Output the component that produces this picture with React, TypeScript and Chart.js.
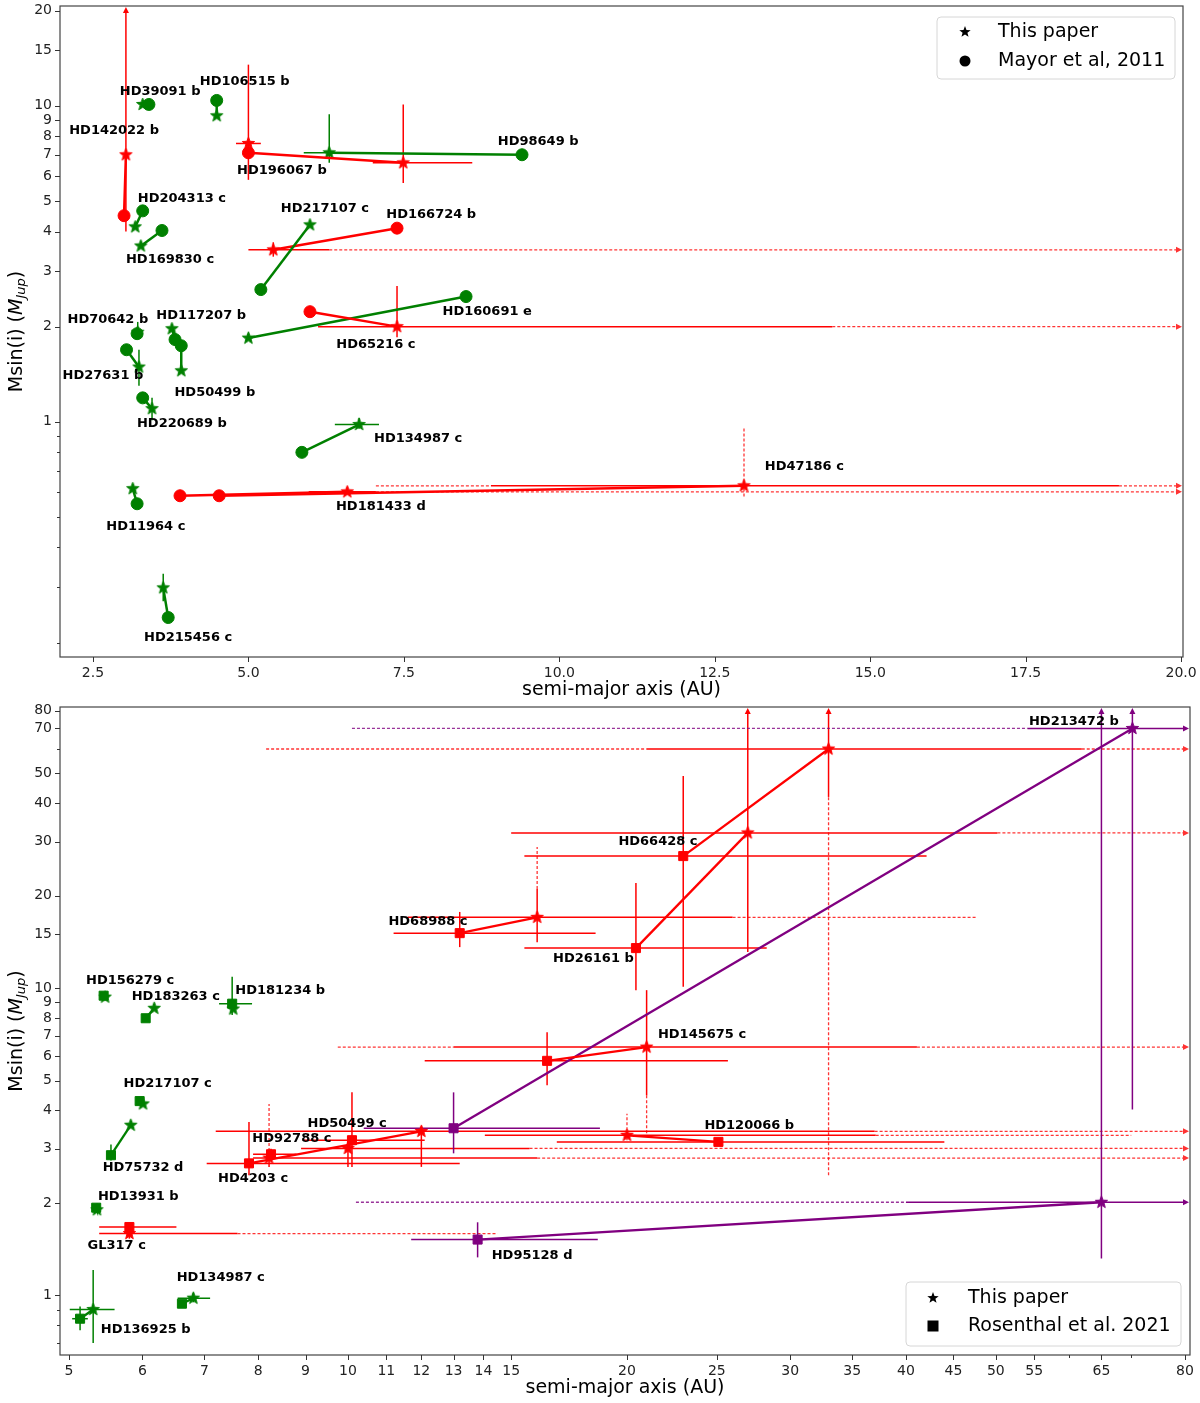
import React, { useEffect, useRef } from 'react';
import { Chart, registerables } from 'chart.js';
Chart.register(...registerables);
Chart.defaults.font.family = '"DejaVu Sans", sans-serif';

const EDGE = Infinity;
const COLORS: Record<string, string> = { g: '#008000', r: '#ff0000', p: '#800080' };

// ---------------- Top panel: This paper vs Mayor et al. 2011 ----------------
const topNames = ['HD142022 b', 'HD39091 b', 'HD106515 b', 'HD196067 b', 'unpaired', 'HD98649 b', 'HD204313 c', 'HD169830 c', 'HD217107 c', 'HD166724 b', 'HD65216 c', 'HD160691 e', 'HD70642 b', 'HD27631 b', 'HD117207 b', 'HD50499 b', 'HD220689 b', 'HD134987 c', 'HD47186 c', 'HD181433 d', 'HD11964 c', 'HD215456 c'];
const topGroup = ['r', 'g', 'g', 'r', 'r', 'g', 'g', 'g', 'g', 'r', 'r', 'g', 'g', 'g', 'g', 'g', 'g', 'g', 'r', 'r', 'g', 'g'];
const topStarA = [3.03, 3.30, 4.49, 7.49, 5.0, 6.30, 3.18, 3.27, 5.99, 5.40, 7.39, 5.0, 3.22, 3.24, 3.77, 3.92, 3.45, 6.78, 12.97, 6.59, 3.14, 3.63];
const topStarM = [7.0, 10.1, 9.3, 6.6, 7.6, 7.1, 4.14, 3.6, 4.2, 3.5, 2.0, 1.84, 1.92, 1.49, 1.97, 1.45, 1.1, 0.98, 0.627, 0.60, 0.614, 0.298];
const topRefA: (number | null)[] = [3.0, 3.40, 4.49, 5.0, null, 9.40, 3.30, 3.61, 5.20, 7.39, 5.99, 8.50, 3.21, 3.04, 3.82, 3.92, 3.30, 5.86, 4.53, 3.90, 3.21, 3.71];
const topRefM: (number | null)[] = [4.49, 10.1, 10.4, 7.1, null, 7.0, 4.65, 4.03, 2.62, 4.1, 2.23, 2.49, 1.9, 1.69, 1.82, 1.74, 1.19, 0.80, 0.583, 0.583, 0.55, 0.24];
const topLabelA: (number | null)[] = [2.84, 3.58, 4.94, 5.54, null, 9.66, 3.93, 3.74, 6.23, 7.94, 7.05, 8.84, 2.74, 2.66, 4.24, 4.46, 3.93, 7.73, 13.94, 7.13, 3.35, 4.03];
const topLabelM: (number | null)[] = [8.33, 11.07, 11.9, 6.23, null, 7.69, 5.08, 3.26, 4.72, 4.52, 1.75, 2.23, 2.1, 1.40, 2.17, 1.24, 0.985, 0.884, 0.72, 0.538, 0.465, 0.207];
// [planet, marker (s=star, r=reference), axis, from, to, style]
const topErr: [string, string, string, number, number, string][] = [
  ['HD142022 b', 's', 'y', 4.0, EDGE, 'solid>'],
  ['unpaired', 's', 'y', 5.83, 13.5, 'solid'],
  ['unpaired', 's', 'x', 4.8, 5.2, 'solid'],
  ['HD196067 b', 's', 'y', 5.7, 10.1, 'solid'],
  ['HD196067 b', 's', 'x', 7.0, 8.6, 'solid'],
  ['HD98649 b', 's', 'y', 6.6, 9.4, 'solid'],
  ['HD98649 b', 's', 'x', 5.89, 6.7, 'solid'],
  ['HD166724 b', 's', 'x', 5.0, 6.3, 'solid'],
  ['HD166724 b', 's', 'x', 6.3, EDGE, 'dashed>'],
  ['HD166724 b', 's', 'y', 3.33, 3.7, 'solid'],
  ['HD65216 c', 's', 'x', 6.12, 14.39, 'solid'],
  ['HD65216 c', 's', 'x', 14.39, EDGE, 'dashed>'],
  ['HD65216 c', 's', 'y', 1.85, 2.69, 'solid'],
  ['HD70642 b', 's', 'y', 1.85, 2.07, 'solid'],
  ['HD27631 b', 's', 'y', 1.3, 1.69, 'solid'],
  ['HD220689 b', 's', 'y', 1.01, 1.19, 'solid'],
  ['HD134987 c', 's', 'x', 6.39, 7.1, 'solid'],
  ['HD134987 c', 's', 'y', 0.95, 1.03, 'solid'],
  ['HD47186 c', 's', 'y', 0.58, 0.965, 'dashed'],
  ['HD47186 c', 's', 'x', 7.05, 8.9, 'dashed'],
  ['HD47186 c', 's', 'x', 8.9, 19.0, 'solid'],
  ['HD47186 c', 's', 'x', 19.0, EDGE, 'dashed>'],
  ['HD181433 d', 's', 'x', 5.97, 7.05, 'solid'],
  ['HD181433 d', 's', 'x', 7.05, EDGE, 'dashed>'],
  ['HD215456 c', 's', 'y', 0.27, 0.33, 'solid'],
];
const topXTicks = [2.5, 5.0, 7.5, 10.0, 12.5, 15.0, 17.5, 20.0];
const topXTickLabels = ['2.5', '5.0', '7.5', '10.0', '12.5', '15.0', '17.5', '20.0'];
const topYTicks = [1, 2, 3, 4, 5, 6, 7, 8, 9, 10, 15, 20];
const topYTickLabels = ['1', '2', '3', '4', '5', '6', '7', '8', '9', '10', '15', '20'];
const topYMinor = [0.2, 0.3, 0.4, 0.5, 0.6, 0.7, 0.8, 0.9];
const topLegend = ['This paper', 'Mayor et al, 2011'];

// ---------------- Bottom panel: This paper vs Rosenthal et al. 2021 ----------------
const botNames = ['HD156279 c', 'HD183263 c', 'HD181234 b', 'HD217107 c', 'HD75732 d', 'HD13931 b', 'HD136925 b', 'HD134987 c', 'GL317 c', 'HD4203 c', 'HD92788 c', 'HD50499 c', 'HD68988 c', 'HD26161 b', 'HD66428 c', 'HD145675 c', 'HD120066 b', 'HD213472 b', 'HD95128 d'];
const botGroup = ['g', 'g', 'g', 'g', 'g', 'g', 'g', 'g', 'r', 'r', 'r', 'r', 'r', 'r', 'r', 'r', 'r', 'p', 'p'];
const botStarA = [5.47, 6.18, 7.52, 6.01, 5.83, 5.36, 5.31, 6.81, 5.81, 12.0, 8.22, 10.0, 16.0, 27.0, 33.0, 21.0, 20.0, 70.2, 65.0];
const botStarM = [9.35, 8.6, 8.55, 4.2, 3.58, 1.90, 0.90, 0.98, 1.59, 3.42, 2.8, 3.01, 17.0, 32.0, 60.0, 6.43, 3.32, 70.0, 2.01];
const botRefA: (number | null)[] = [5.45, 6.05, 7.5, 5.96, 5.55, 5.35, 5.14, 6.62, 5.81, 7.82, 8.26, 10.1, 13.2, 20.45, 23.0, 16.4, 25.1, 13.0, 13.8];
const botRefM: (number | null)[] = [9.45, 7.98, 8.9, 4.29, 2.86, 1.93, 0.84, 0.94, 1.67, 2.69, 2.88, 3.2, 15.1, 13.5, 26.9, 5.8, 3.16, 3.5, 1.52];
const botLabelA: (number | null)[] = [5.82, 6.52, 8.45, 6.39, 6.01, 5.94, 6.05, 7.29, 5.63, 7.90, 8.70, 9.98, 12.2, 18.4, 21.6, 24.1, 27.1, 60.7, 15.8];
const botLabelM: (number | null)[] = [10.54, 9.35, 9.78, 4.90, 2.61, 2.09, 0.775, 1.144, 1.455, 2.40, 3.25, 3.63, 16.4, 12.5, 29.9, 7.08, 3.58, 73.5, 1.35];
const botErr: [string, string, string, number, number, string][] = [
  ['HD181234 b', 'r', 'y', 8.17, 10.9, 'solid'],
  ['HD181234 b', 'r', 'x', 7.26, 7.88, 'solid'],
  ['HD75732 d', 'r', 'y', 2.75, 3.1, 'solid'],
  ['HD136925 b', 'r', 'y', 0.77, 0.92, 'solid'],
  ['HD136925 b', 'r', 'x', 5.04, 5.24, 'solid'],
  ['HD136925 b', 's', 'y', 0.70, 1.21, 'solid'],
  ['HD136925 b', 's', 'x', 5.01, 5.60, 'solid'],
  ['HD134987 c', 's', 'x', 6.55, 7.1, 'solid'],
  ['HD134987 c', 's', 'y', 0.95, 1.02, 'solid'],
  ['GL317 c', 'r', 'x', 5.39, 6.53, 'solid'],
  ['GL317 c', 'r', 'y', 1.62, 1.73, 'solid'],
  ['GL317 c', 's', 'x', 5.39, 7.6, 'solid'],
  ['GL317 c', 's', 'x', 7.6, 14.5, 'dashed'],
  ['GL317 c', 's', 'y', 1.53, 1.66, 'solid'],
  ['HD4203 c', 'r', 'y', 2.46, 3.67, 'solid'],
  ['HD4203 c', 'r', 'x', 7.04, 13.2, 'solid'],
  ['HD4203 c', 's', 'y', 2.62, 3.55, 'solid'],
  ['HD4203 c', 's', 'x', 7.2, 37, 'solid'],
  ['HD4203 c', 's', 'x', 37, EDGE, 'dashed>'],
  ['HD92788 c', 'r', 'x', 7.9, 8.8, 'solid'],
  ['HD92788 c', 'r', 'y', 2.75, 3.0, 'solid'],
  ['HD92788 c', 's', 'y', 2.62, 2.95, 'solid'],
  ['HD92788 c', 's', 'y', 2.95, 4.2, 'dashed'],
  ['HD92788 c', 's', 'x', 7.9, 16, 'solid'],
  ['HD92788 c', 's', 'x', 16, EDGE, 'dashed>'],
  ['HD50499 c', 'r', 'y', 2.62, 4.58, 'solid'],
  ['HD50499 c', 'r', 'x', 8.94, 12.1, 'solid'],
  ['HD50499 c', 's', 'y', 2.62, 3.2, 'solid'],
  ['HD50499 c', 's', 'x', 8.9, 15.7, 'solid'],
  ['HD50499 c', 's', 'x', 15.7, EDGE, 'dashed>'],
  ['HD68988 c', 'r', 'y', 13.6, 17.7, 'solid'],
  ['HD68988 c', 'r', 'x', 11.2, 18.5, 'solid'],
  ['HD68988 c', 's', 'y', 14.1, 21.0, 'solid'],
  ['HD68988 c', 's', 'y', 21.0, 28.8, 'dashed'],
  ['HD68988 c', 's', 'x', 11.6, 26.0, 'solid'],
  ['HD68988 c', 's', 'x', 26.0, 47.6, 'dashed'],
  ['HD26161 b', 'r', 'y', 9.85, 22.0, 'solid'],
  ['HD26161 b', 'r', 'x', 15.5, 28.3, 'solid'],
  ['HD26161 b', 's', 'y', 13.1, EDGE, 'solid>'],
  ['HD26161 b', 's', 'x', 15.0, 50.2, 'solid'],
  ['HD26161 b', 's', 'x', 50.2, EDGE, 'dashed>'],
  ['HD66428 c', 'r', 'y', 10.1, 49, 'solid'],
  ['HD66428 c', 'r', 'x', 15.5, 42.1, 'solid'],
  ['HD66428 c', 's', 'y', 41.9, EDGE, 'solid>'],
  ['HD66428 c', 's', 'y', 2.46, 41.9, 'dashed'],
  ['HD66428 c', 's', 'x', 21.0, 61.9, 'solid'],
  ['HD66428 c', 's', 'x', 8.16, 21.0, 'dashed'],
  ['HD66428 c', 's', 'x', 61.9, EDGE, 'dashed>'],
  ['HD145675 c', 'r', 'y', 4.83, 7.19, 'solid'],
  ['HD145675 c', 'r', 'x', 12.1, 25.7, 'solid'],
  ['HD145675 c', 's', 'y', 4.48, 9.85, 'solid'],
  ['HD145675 c', 's', 'y', 3.37, 4.48, 'dashed'],
  ['HD145675 c', 's', 'x', 13.0, 41.1, 'solid'],
  ['HD145675 c', 's', 'x', 9.75, 13.0, 'dashed'],
  ['HD145675 c', 's', 'x', 41.1, EDGE, 'dashed>'],
  ['HD120066 b', 'r', 'x', 16.8, 44.0, 'solid'],
  ['HD120066 b', 'r', 'y', 3.1, 3.25, 'solid'],
  ['HD120066 b', 's', 'y', 3.2, 3.9, 'dashed'],
  ['HD120066 b', 's', 'x', 14.05, 37.1, 'solid'],
  ['HD120066 b', 's', 'x', 37.1, 70, 'dashed'],
  ['HD213472 b', 'r', 'y', 2.9, 4.58, 'solid'],
  ['HD213472 b', 'r', 'x', 10.4, 18.7, 'solid'],
  ['HD213472 b', 's', 'y', 4.03, EDGE, 'solid>'],
  ['HD213472 b', 's', 'x', 10.1, 54.1, 'dashed'],
  ['HD213472 b', 's', 'x', 54.1, EDGE, 'solid>'],
  ['HD95128 d', 'r', 'y', 1.33, 1.73, 'solid'],
  ['HD95128 d', 'r', 'x', 11.7, 18.6, 'solid'],
  ['HD95128 d', 's', 'y', 1.32, EDGE, 'solid>'],
  ['HD95128 d', 's', 'x', 10.2, 40, 'dashed'],
  ['HD95128 d', 's', 'x', 40, EDGE, 'solid>'],
];
const botXTicks = [5, 6, 7, 8, 9, 10, 11, 12, 13, 14, 15, 20, 25, 30, 35, 40, 45, 50, 55, 65, 80];
const botXTickLabels = ['5', '6', '7', '8', '9', '10', '11', '12', '13', '14', '15', '20', '25', '30', '35', '40', '45', '50', '55', '65', '80'];
const botXMinor = [60, 70];
const botYTicks = [1, 2, 3, 4, 5, 6, 7, 8, 9, 10, 15, 20, 30, 40, 50, 70, 80];
const botYTickLabels = ['1', '2', '3', '4', '5', '6', '7', '8', '9', '10', '15', '20', '30', '40', '50', '70', '80'];
const botYMinor = [0.7, 0.8, 0.9, 60];
const botLegend = ['This paper', 'Rosenthal et al. 2021'];

// ---------------- helpers ----------------
function starImage(color: string, r: number): HTMLCanvasElement {
  const size = Math.ceil(r * 2 + 4);
  const c = document.createElement('canvas');
  c.width = size; c.height = size;
  const g = c.getContext('2d')!;
  const cx = size / 2, cy = size / 2;
  g.beginPath();
  for (let k = 0; k < 10; k++) {
    const ang = -Math.PI / 2 + (k * Math.PI) / 5;
    const rr = k % 2 === 0 ? r : r * 0.42;
    g.lineTo(cx + rr * Math.cos(ang), cy + rr * Math.sin(ang));
  }
  g.closePath();
  g.fillStyle = color; g.fill();
  g.lineWidth = 1; g.strokeStyle = color; g.lineJoin = 'miter'; g.stroke();
  return c;
}

function starPath(ctx: CanvasRenderingContext2D, cx: number, cy: number, r: number) {
  ctx.beginPath();
  for (let k = 0; k < 10; k++) {
    const ang = -Math.PI / 2 + (k * Math.PI) / 5;
    const rr = k % 2 === 0 ? r : r * 0.42;
    ctx.lineTo(cx + rr * Math.cos(ang), cy + rr * Math.sin(ang));
  }
  ctx.closePath();
}

type Area = { left: number; right: number; top: number; bottom: number };
type Panel = {
  names: string[]; group: string[];
  sA: number[]; sM: number[]; rA: (number | null)[]; rM: (number | null)[];
  lA: (number | null)[]; lM: (number | null)[];
  err: [string, string, string, number, number, string][];
  xMinor: number[]; yMinor: number[];
  xTitleY: number;
  legend: string[]; refMarker: 'circle' | 'rect';
  area: Area;
  legendBox: { x: number; y: number; w: number; h: number; mx: number; tx: number; rows: number[] };
};

function clampTo(v: number, s: any) {
  return Math.min(Math.max(v, s.min), s.max);
}

function drawErrors(chart: any, p: Panel) {
  const { ctx, chartArea: ca } = chart;
  const xs = chart.scales.x, ys = chart.scales.y;
  ctx.save();
  ctx.beginPath();
  ctx.rect(ca.left, ca.top, ca.right - ca.left, ca.bottom - ca.top);
  ctx.clip();
  for (const [name, mk, axis, from, to, kind] of p.err) {
    const i = p.names.indexOf(name);
    if (i < 0) continue;
    const a = mk === 's' ? p.sA[i] : (p.rA[i] as number);
    const m = mk === 's' ? p.sM[i] : (p.rM[i] as number);
    const col = COLORS[p.group[i]];
    const dashed = kind.startsWith('dashed');
    const arrow = kind.endsWith('>');
    let x0: number, y0: number, x1: number, y1: number;
    if (axis === 'x') {
      x0 = xs.getPixelForValue(clampTo(from, xs));
      x1 = xs.getPixelForValue(clampTo(to, xs));
      y0 = y1 = ys.getPixelForValue(m);
    } else {
      y0 = ys.getPixelForValue(clampTo(from, ys));
      y1 = ys.getPixelForValue(clampTo(to, ys));
      x0 = x1 = xs.getPixelForValue(a);
    }
    if (arrow) {
      if (axis === 'x') x1 = Math.min(x1, ca.right - 1); else y1 = Math.max(y1, ca.top + 1);
    }
    const len = Math.hypot(x1 - x0, y1 - y0) || 1;
    const ux = (x1 - x0) / len, uy = (y1 - y0) / len;
    const al = 6;
    const ex = arrow ? x1 - ux * al : x1, ey = arrow ? y1 - uy * al : y1;
    ctx.strokeStyle = col;
    ctx.globalAlpha = dashed ? 0.8 : 1;
    ctx.lineWidth = dashed ? 1.3 : 1.5;
    ctx.setLineDash(dashed ? [3, 2] : []);
    ctx.beginPath();
    ctx.moveTo(x0, y0);
    ctx.lineTo(ex, ey);
    ctx.stroke();
    if (arrow) {
      ctx.setLineDash([]);
      ctx.fillStyle = col;
      ctx.beginPath();
      ctx.moveTo(x1, y1);
      ctx.lineTo(ex - uy * 3, ey + ux * 3);
      ctx.lineTo(ex + uy * 3, ey - ux * 3);
      ctx.closePath();
      ctx.fill();
    }
  }
  ctx.restore();
}

function drawLabels(chart: any, p: Panel) {
  const { ctx } = chart;
  const xs = chart.scales.x, ys = chart.scales.y;
  ctx.save();
  ctx.font = 'bold 13px "DejaVu Sans"';
  ctx.fillStyle = '#000';
  ctx.textAlign = 'center';
  ctx.textBaseline = 'middle';
  p.names.forEach((n, i) => {
    const la = p.lA[i], lm = p.lM[i];
    if (la == null || lm == null) return;
    ctx.fillText(n, xs.getPixelForValue(la), ys.getPixelForValue(lm));
  });
  ctx.restore();
}

function drawDecor(chart: any, p: Panel) {
  const { ctx, chartArea: ca } = chart;
  const xs = chart.scales.x, ys = chart.scales.y;
  ctx.save();
  ctx.strokeStyle = '#444';
  ctx.lineWidth = 1.2;
  ctx.strokeRect(ca.left, ca.top, ca.right - ca.left, ca.bottom - ca.top);
  ctx.strokeStyle = '#333';
  ctx.lineWidth = 1;
  ctx.beginPath();
  for (const t of xs.ticks) {
    const px = Math.round(xs.getPixelForValue(t.value)) + 0.5;
    ctx.moveTo(px, ca.bottom); ctx.lineTo(px, ca.bottom + 5);
  }
  for (const v of p.xMinor) {
    const px = Math.round(xs.getPixelForValue(v)) + 0.5;
    ctx.moveTo(px, ca.bottom); ctx.lineTo(px, ca.bottom + 3);
  }
  for (const t of ys.ticks) {
    const py = Math.round(ys.getPixelForValue(t.value)) + 0.5;
    ctx.moveTo(ca.left, py); ctx.lineTo(ca.left - 5, py);
  }
  for (const v of p.yMinor) {
    const py = Math.round(ys.getPixelForValue(v)) + 0.5;
    ctx.moveTo(ca.left, py); ctx.lineTo(ca.left - 3, py);
  }
  ctx.stroke();
  ctx.fillStyle = '#000';
  ctx.font = '19px "DejaVu Sans"';
  ctx.textAlign = 'center';
  ctx.textBaseline = 'middle';
  ctx.fillText('semi-major axis (AU)', (ca.left + ca.right) / 2, p.xTitleY);
  ctx.save();
  ctx.translate(17, (ca.top + ca.bottom) / 2);
  ctx.rotate(-Math.PI / 2);
  const parts: [string, string, number][] = [
    ['Msin(i) (', '19px "DejaVu Sans"', 0],
    ['M', 'italic 19px "DejaVu Sans"', 0],
    ['Jup', 'italic 13px "DejaVu Sans"', 5],
    [')', '19px "DejaVu Sans"', 0],
  ];
  let w = 0;
  for (const pt of parts) { ctx.font = pt[1]; w += ctx.measureText(pt[0]).width; }
  let x = -w / 2;
  ctx.textAlign = 'left';
  for (const pt of parts) { ctx.font = pt[1]; ctx.fillText(pt[0], x, pt[2]); x += ctx.measureText(pt[0]).width; }
  ctx.restore();
  const b = p.legendBox;
  ctx.globalAlpha = 0.85;
  ctx.fillStyle = '#fff';
  ctx.beginPath();
  const rr = 4;
  ctx.moveTo(b.x + rr, b.y);
  ctx.arcTo(b.x + b.w, b.y, b.x + b.w, b.y + b.h, rr);
  ctx.arcTo(b.x + b.w, b.y + b.h, b.x, b.y + b.h, rr);
  ctx.arcTo(b.x, b.y + b.h, b.x, b.y, rr);
  ctx.arcTo(b.x, b.y, b.x + b.w, b.y, rr);
  ctx.closePath();
  ctx.fill();
  ctx.globalAlpha = 1;
  ctx.strokeStyle = '#d6d6d6';
  ctx.lineWidth = 1;
  ctx.stroke();
  ctx.fillStyle = '#000';
  starPath(ctx, b.mx, b.rows[0], 6);
  ctx.fill();
  if (p.refMarker === 'circle') {
    ctx.beginPath(); ctx.arc(b.mx, b.rows[1], 5.5, 0, Math.PI * 2); ctx.fill();
  } else {
    ctx.fillRect(b.mx - 5.5, b.rows[1] - 5.5, 11, 11);
  }
  ctx.font = '19px "DejaVu Sans"';
  ctx.textAlign = 'left';
  ctx.textBaseline = 'middle';
  ctx.fillStyle = '#000';
  ctx.fillText(p.legend[0], b.tx, b.rows[0]);
  ctx.fillText(p.legend[1], b.tx, b.rows[1]);
  ctx.restore();
}

function fixLayout(chart: any, A: Area, lim: any) {
  const ca = chart.chartArea;
  ca.left = A.left; ca.right = A.right; ca.top = A.top; ca.bottom = A.bottom;
  ca.width = A.right - A.left; ca.height = A.bottom - A.top;
  const xs = chart.scales.x, ys = chart.scales.y;
  xs.left = A.left; xs.right = A.right; xs.width = A.right - A.left;
  xs.top = A.bottom; xs.bottom = chart.height; xs.height = chart.height - A.bottom;
  ys.left = 0; ys.right = A.left; ys.width = A.left;
  ys.top = A.top; ys.bottom = A.bottom; ys.height = A.bottom - A.top;
  xs.min = lim.xMin; xs.max = lim.xMax;
  ys.min = lim.yMin; ys.max = lim.yMax;
  xs.configure();
  ys.configure();
}

function buildDatasets(p: Panel, refRadius: number, starR: number, lineW: number) {
  const stars: Record<string, HTMLCanvasElement> = {
    g: starImage(COLORS.g, starR), r: starImage(COLORS.r, starR), p: starImage(COLORS.p, starR),
  };
  return p.names.map((n, i) => {
    const col = COLORS[p.group[i]];
    const pts: { x: number; y: number }[] = [];
    const styles: any[] = [];
    const radii: number[] = [];
    const ra = p.rA[i], rm = p.rM[i];
    if (ra != null && rm != null) {
      pts.push({ x: ra, y: rm }); styles.push(p.refMarker); radii.push(refRadius);
    }
    pts.push({ x: p.sA[i], y: p.sM[i] }); styles.push(stars[p.group[i]]); radii.push(starR);
    return {
      label: n,
      data: pts,
      showLine: true,
      borderColor: col,
      backgroundColor: col,
      borderWidth: lineW,
      pointStyle: styles,
      pointRadius: radii,
      pointBackgroundColor: col,
      pointBorderColor: col,
      pointBorderWidth: 1,
    };
  });
}

function makeConfig(p: Panel, opts: any): any {
  const plugin = {
    id: 'decor',
    afterLayout(chart: any) { fixLayout(chart, p.area, opts); },
    beforeDatasetsDraw(chart: any) { drawErrors(chart, p); },
    afterDatasetsDraw(chart: any) { drawLabels(chart, p); },
    afterDraw(chart: any) { drawDecor(chart, p); },
  };
  const tickFont = { size: 14, family: '"DejaVu Sans"' };
  return {
    type: 'scatter',
    data: { datasets: buildDatasets(p, opts.refRadius, opts.starR, opts.lineW) },
    plugins: [plugin],
    options: {
      responsive: false,
      animation: false,
      devicePixelRatio: 1,
      events: [],
      layout: { padding: opts.padding },
      plugins: { legend: { display: false }, tooltip: { enabled: false } },
      scales: {
        x: {
          type: opts.xType, min: opts.xMin, max: opts.xMax, bounds: 'data',
          grid: { display: false, drawTicks: true, tickLength: 5 },
          border: { display: false },
          ticks: {
            font: tickFont, color: '#222', padding: 3, autoSkip: false, maxRotation: 0, minRotation: 0,
            callback: (_v: any, idx: number) => opts.xLabels[idx],
          },
          afterBuildTicks: (s: any) => {
            s.ticks = opts.xTicks.map((v: number) => ({ value: v }));
            s.min = opts.xMin; s.max = opts.xMax;
          },
          afterFit: (s: any) => { s.height = opts.xHeight; s.paddingLeft = 0; s.paddingRight = 0; },
        },
        y: {
          type: 'logarithmic', min: opts.yMin, max: opts.yMax, bounds: 'data',
          grid: { display: false, drawTicks: true, tickLength: 5 },
          border: { display: false },
          ticks: {
            font: tickFont, color: '#222', padding: 3, autoSkip: false,
            callback: (_v: any, idx: number) => opts.yLabels[idx],
          },
          afterBuildTicks: (s: any) => {
            s.ticks = opts.yTicks.map((v: number) => ({ value: v }));
            s.min = opts.yMin; s.max = opts.yMax;
          },
          afterFit: (s: any) => { s.width = 60; s.paddingTop = 0; s.paddingBottom = 0; },
        },
      },
    },
  };
}

export default function App() {
  const topRef = useRef<HTMLCanvasElement>(null);
  const botRef = useRef<HTMLCanvasElement>(null);
  useEffect(() => {
    const topPanel: Panel = {
      names: topNames, group: topGroup, sA: topStarA, sM: topStarM, rA: topRefA, rM: topRefM,
      lA: topLabelA, lM: topLabelM, err: topErr, xMinor: [], yMinor: topYMinor, xTitleY: 690,
      legend: topLegend, refMarker: 'circle',
      area: { left: 60, right: 1183, top: 6, bottom: 657 },
      legendBox: { x: 937, y: 17, w: 238, h: 62, mx: 965, tx: 998, rows: [32, 61] },
    };
    const botPanel: Panel = {
      names: botNames, group: botGroup, sA: botStarA, sM: botStarM, rA: botRefA, rM: botRefM,
      lA: botLabelA, lM: botLabelM, err: botErr, xMinor: botXMinor, yMinor: botYMinor, xTitleY: 685,
      legend: botLegend, refMarker: 'rect',
      area: { left: 60, right: 1190, top: 4, bottom: 652 },
      legendBox: { x: 906, y: 579, w: 275, h: 64, mx: 933, tx: 968, rows: [595, 623] },
    };
    const c1 = new Chart(topRef.current!, makeConfig(topPanel, {
      refRadius: 6, starR: 6.5, lineW: 2.5, padding: { top: 6, right: 17, left: 0, bottom: 0 },
      xType: 'linear', xMin: 1.97, xMax: 20.03, xTicks: topXTicks, xLabels: topXTickLabels, xHeight: 46,
      yMin: 0.18, yMax: 20.7, yTicks: topYTicks, yLabels: topYTickLabels,
    }));
    const c2 = new Chart(botRef.current!, makeConfig(botPanel, {
      refRadius: 6.4, starR: 6.5, lineW: 2.3, padding: { top: 4, right: 10, left: 0, bottom: 0 },
      xType: 'logarithmic', xMin: 4.89, xMax: 81.0, xTicks: botXTicks, xLabels: botXTickLabels, xHeight: 48,
      yMin: 0.64, yMax: 82.2, yTicks: botYTicks, yLabels: botYTickLabels,
    }));
    return () => { c1.destroy(); c2.destroy(); };
  }, []);
  return (
    <div style={{ position: 'absolute', left: 0, top: 0, width: 1200, height: 1403, background: '#fff' }}>
      <canvas ref={topRef} width={1200} height={703} style={{ position: 'absolute', left: 0, top: 0, width: 1200, height: 703 }} />
      <canvas ref={botRef} width={1200} height={700} style={{ position: 'absolute', left: 0, top: 703, width: 1200, height: 700 }} />
    </div>
  );
}
